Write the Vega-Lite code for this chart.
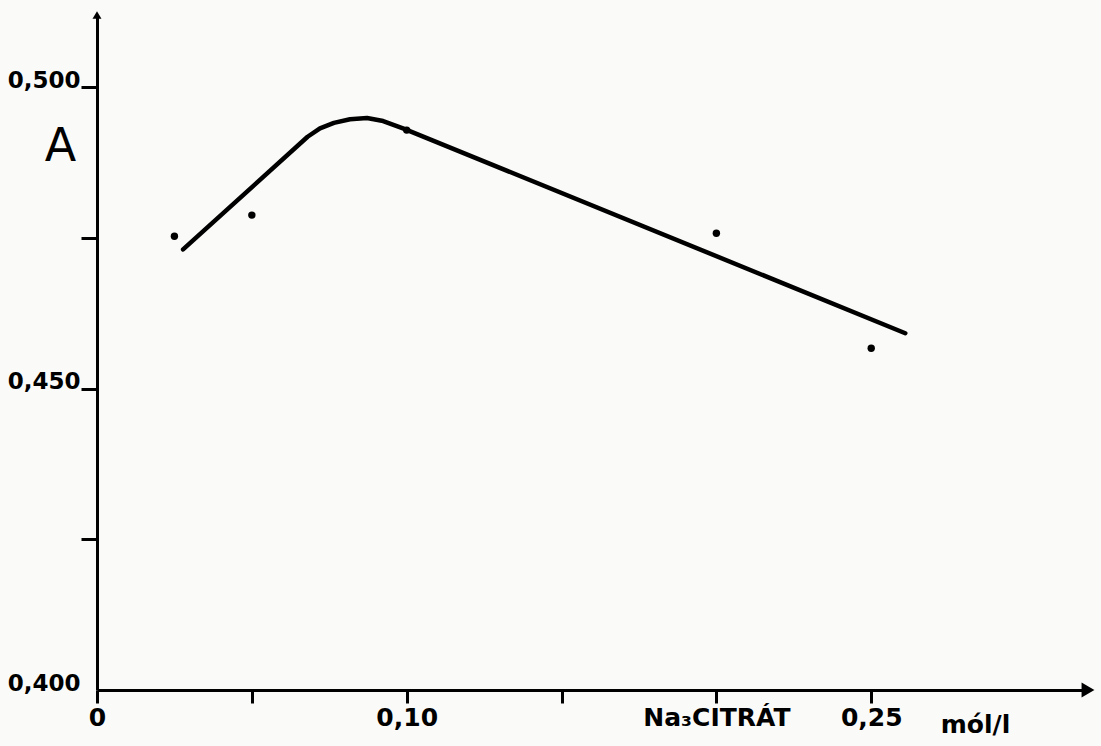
{
  "$schema": "https://vega.github.io/schema/vega-lite/v6.json",
  "width": 991,
  "height": 675,
  "autosize": "none",
  "padding": {"left": 97, "top": 15, "right": 13, "bottom": 56},
  "background": "#fafaf8",
  "config": {"view": {"stroke": null}, "axis": {"grid": false}},
  "datasets": {
    "measured": [
      {"citrate": 0.025, "absorbance": 0.4753},
      {"citrate": 0.05, "absorbance": 0.4788},
      {"citrate": 0.10, "absorbance": 0.4929},
      {"citrate": 0.20, "absorbance": 0.4758},
      {"citrate": 0.25, "absorbance": 0.4567}
    ],
    "curve": [
      {"citrate": 0.0278, "absorbance": 0.4731},
      {"citrate": 0.0680, "absorbance": 0.4918},
      {"citrate": 0.0720, "absorbance": 0.4932},
      {"citrate": 0.0765, "absorbance": 0.4941},
      {"citrate": 0.0817, "absorbance": 0.4947},
      {"citrate": 0.0872, "absorbance": 0.4949},
      {"citrate": 0.0924, "absorbance": 0.4944},
      {"citrate": 0.0988, "absorbance": 0.4932},
      {"citrate": 0.2610, "absorbance": 0.4592}
    ],
    "arrows": [
      {"citrate": 0, "absorbance": 0.512, "dir": "up"},
      {"citrate": 0.32, "absorbance": 0.4, "dir": "right"}
    ]
  },
  "layer": [
    {
      "data": {"name": "curve"},
      "mark": {"type": "line", "color": "black", "strokeWidth": 4.5, "interpolate": "linear", "strokeCap": "round", "strokeJoin": "round", "clip": false},
      "encoding": {
        "x": {
          "field": "citrate", "type": "quantitative",
          "scale": {"domain": [0, 0.32], "nice": false, "zero": false},
          "axis": {
            "title": "mól/l",
            "values": [0, 0.05, 0.1, 0.15, 0.2, 0.25],
            "labelExpr": "datum.value == 0 ? '0' : datum.value == 0.1 ? '0,10' : datum.value == 0.2 ? 'Na₃CITRÁT' : datum.value == 0.25 ? '0,25' : ''",
            "domainColor": "black", "domainWidth": 3,
            "tickColor": "black", "tickWidth": 3, "tickSize": 13,
            "labelFont": "DejaVu Sans", "labelFontWeight": "bold", "labelFontSize": 25, "labelColor": "black",
            "labelPadding": 2, "labelBaseline": "top", "labelFlush": false, "labelOverlap": false,
            "titleFont": "DejaVu Sans", "titleFontSize": 25, "titleFontWeight": "bold", "titleColor": "black",
            "titleX": 878, "titleY": 42, "titleAlign": "center", "titleBaseline": "alphabetic"
          }
        },
        "y": {
          "field": "absorbance", "type": "quantitative",
          "scale": {"domain": [0.4, 0.512], "nice": false, "zero": false},
          "axis": {
            "title": "A",
            "values": [0.4, 0.425, 0.45, 0.475, 0.5],
            "labelExpr": "datum.value == 0.4 ? '0,400' : datum.value == 0.45 ? '0,450' : datum.value == 0.5 ? '0,500' : ''",
            "domainColor": "black", "domainWidth": 3,
            "tickColor": {"condition": {"test": "datum.value == 0.4", "value": "transparent"}, "value": "black"},
            "tickWidth": 3, "tickSize": 16,
            "labelFont": "DejaVu Sans", "labelFontWeight": "bold", "labelFontSize": 23, "labelColor": "black",
            "labelPadding": 1, "labelBaseline": "alphabetic", "labelFlush": false, "labelOverlap": false,
            "titleFont": "DejaVu Sans", "titleFontSize": 46, "titleFontWeight": "normal", "titleColor": "black",
            "titleAngle": 0, "titleX": -37, "titleY": 145, "titleAlign": "center", "titleBaseline": "alphabetic"
          }
        }
      }
    },
    {
      "data": {"name": "measured"},
      "mark": {"type": "circle", "color": "black", "opacity": 1, "size": 55, "clip": false},
      "encoding": {
        "x": {"field": "citrate", "type": "quantitative"},
        "y": {"field": "absorbance", "type": "quantitative"}
      }
    },
    {
      "data": {"name": "arrows"},
      "mark": {"type": "point", "filled": true, "color": "black", "opacity": 1, "clip": false},
      "encoding": {
        "x": {"field": "citrate", "type": "quantitative"},
        "y": {"field": "absorbance", "type": "quantitative"},
        "shape": {"field": "dir", "type": "nominal", "scale": {"domain": ["up", "right"], "range": ["triangle-up", "triangle-right"]}, "legend": null},
        "size": {"field": "dir", "type": "nominal", "scale": {"domain": ["up", "right"], "range": [80, 220]}, "legend": null}
      }
    }
  ]
}
